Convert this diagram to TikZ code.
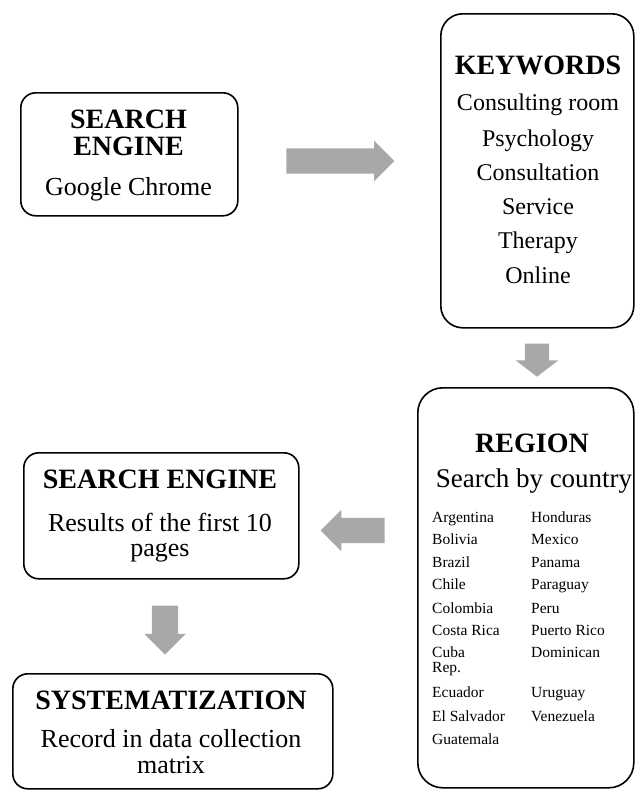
\documentclass[tikz,border=0pt]{standalone}
\usepackage{fontspec}
\setmainfont{Liberation Serif}
\usetikzlibrary{shapes.arrows}
\definecolor{arrgray}{HTML}{A8A8A8}

\begin{document}
\begin{tikzpicture}[x=1pt,y=-1pt]

\tikzset{box/.style = {draw, line width=1.6pt, anchor=north west, inner sep=0pt}}
\tikzset{blockarrow/.style = {single arrow, fill=arrgray, inner xsep=0pt, minimum width=0pt,
  text height=0pt, text depth=0pt}}
\tikzset{title/.style = {anchor=base, inner sep=0pt, font=\fontsize{28}{30}\selectfont\bfseries}}
\tikzset{txt/.style = {anchor=base, inner sep=0pt, font=\fontsize{26}{28}\selectfont}}
\tikzset{kwtxt/.style = {anchor=base, inner sep=0pt, font=\fontsize{24}{26}\selectfont}}
\tikzset{ctry/.style = {anchor=base west, inner sep=0pt, font=\fontsize{15.5}{17}\selectfont}}

\useasboundingbox (0,0) rectangle (635,790);

% boxes
\node[box, rounded corners=15pt, minimum width=217pt, minimum height=123pt] (engine) at (20,92) {};
\node[box, rounded corners=22pt, minimum width=193pt, minimum height=314pt] (keywords) at (440,13) {};
\node[box, rounded corners=25pt, minimum width=216pt, minimum height=400pt] (region) at (417,387) {};
\node[box, rounded corners=15pt, minimum width=275pt, minimum height=126pt] (results) at (23,452) {};
\node[box, rounded corners=15pt, minimum width=320pt, minimum height=115pt] (system) at (12,673) {};

% texts
\node[title] (engineA) at (128.5,128) {SEARCH};
\node[title] (engineB) at (128.5,155) {ENGINE};
\node[txt] (engineC) at (128.5,195) {Google Chrome};

\node[title] (kwtitle) at (538,74) {KEYWORDS};
\foreach \word/\yy [count=\i] in {Consulting room/110, Psychology/146, Consultation/180,
  Service/214, Therapy/248, Online/283}
  \node[kwtxt] (kw\i) at (538,\yy) {\word};

\node[title] (regtitle) at (532,452) {REGION};
\node[txt, font=\fontsize{27}{29}\selectfont] (regsub) at (534,487) {Search by country};
\foreach \name/\yy [count=\i] in {Argentina/522, Bolivia/544, Brazil/567, Chile/589,
  Colombia/613, Costa Rica/635, Cuba/657, Rep./672, Ecuador/697, El Salvador/721, Guatemala/744}
  \node[ctry] (left\i) at (432,\yy) {\name};
\foreach \name/\yy [count=\i] in {Honduras/522, Mexico/544, Panama/567, Paraguay/589,
  Peru/613, Puerto Rico/635, Dominican/657, Uruguay/697, Venezuela/721}
  \node[ctry] (right\i) at (531,\yy) {\name};

\node[title] (restitle) at (160,488) {SEARCH ENGINE};
\node[txt] (resA) at (160,531) {Results of the first 10};
\node[txt] (resB) at (160,556) {pages};

\node[title] (systitle) at (171,709) {SYSTEMATIZATION};
\node[txt] (sysA) at (171,747) {Record in data collection};
\node[txt] (sysB) at (171,773) {matrix};

% arrows
\node[blockarrow, inner ysep=12.5pt, single arrow head extend=7.5pt, minimum height=108pt] (arr1) at (334,161) {};
\node[blockarrow, inner ysep=12pt, single arrow head extend=9pt, single arrow tip angle=105,
  minimum height=33pt, rotate=-90] (arr2) at (537,355.5) {};
\node[blockarrow, inner ysep=12.5pt, single arrow head extend=8pt, minimum height=64pt,
  rotate=180] (arr3) at (359,530.5) {};
\node[blockarrow, inner ysep=13pt, single arrow head extend=7.5pt, minimum height=49pt,
  rotate=-90] (arr4) at (165,623.5) {};
\end{tikzpicture}
\end{document}
